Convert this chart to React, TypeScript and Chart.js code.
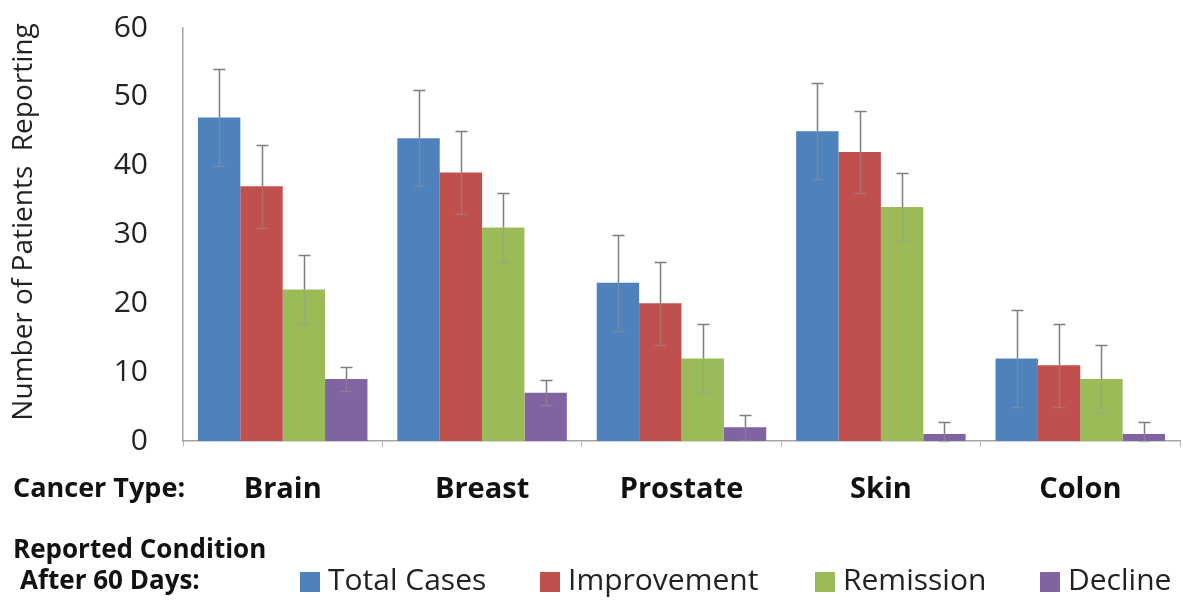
import React, { useEffect, useRef } from "react";
import { Chart, registerables } from "chart.js";

Chart.register(...registerables);

const categories = ["Brain", "Breast", "Prostate", "Skin", "Colon"];
const seriesNames = ["Total Cases", "Improvement", "Remission", "Decline"];
const totalCases = [47, 44, 23, 45, 12];
const improvement = [37, 39, 20, 42, 11];
const remission = [22, 31, 12, 34, 9];
const decline = [9, 7, 2, 1, 1];
const totalErr = [7, 7, 7, 7, 7];
const improvementErr = [6, 6, 6, 6, 6];
const remissionErr = [5, 5, 5, 5, 5];
const declineErr = [1.8, 1.8, 1.8, 1.7, 1.7];
const yTicks = [0, 10, 20, 30, 40, 50, 60];
const colors = ["#4F81BD", "#C0504D", "#9BBB59", "#8064A2"];

const FONT = "'Open Sans', Lato, sans-serif";

const errorBarPlugin = {
  id: "errorBars",
  afterDatasetsDraw(chart: any) {
    const ctx = chart.ctx;
    const yScale = chart.scales.y;
    chart.data.datasets.forEach((ds: any, i: number) => {
      const meta = chart.getDatasetMeta(i);
      meta.data.forEach((bar: any, j: number) => {
        const v = ds.data[j];
        const e = ds.errors[j];
        const x = Math.round(bar.x) + 0.5;
        const yTop = Math.round(yScale.getPixelForValue(v + e)) + 0.5;
        const yVal = yScale.getPixelForValue(v);
        const yBot = Math.round(yScale.getPixelForValue(Math.max(0, v - e))) + 0.5;
        ctx.save();
        ctx.lineWidth = 1.5;
        ctx.strokeStyle = "rgba(120,120,120,0.95)";
        ctx.beginPath();
        ctx.moveTo(x, yTop);
        ctx.lineTo(x, yVal);
        ctx.moveTo(x - 6, yTop);
        ctx.lineTo(x + 6, yTop);
        ctx.stroke();
        ctx.strokeStyle = "rgba(150,150,150,0.45)";
        ctx.beginPath();
        ctx.moveTo(x, yVal);
        ctx.lineTo(x, yBot);
        ctx.moveTo(x - 6, yBot);
        ctx.lineTo(x + 6, yBot);
        ctx.stroke();
        ctx.restore();
      });
    });
  },
};

const extrasPlugin = {
  id: "extras",
  afterDraw(chart: any) {
    const ctx = chart.ctx;
    ctx.save();
    // y axis title
    ctx.save();
    ctx.translate(24, 222);
    ctx.rotate(-Math.PI / 2);
    ctx.fillStyle = "#222";
    ctx.textAlign = "center";
    ctx.textBaseline = "middle";
    ctx.font = `28px ${FONT}`;
    ctx.fillText("Number of Patients  Reporting", 0, 0);
    ctx.restore();

    ctx.fillStyle = "#111";
    ctx.textBaseline = "middle";
    ctx.textAlign = "left";
    ctx.font = `bold 27px ${FONT}`;
    ctx.fillText("Cancer Type:", 13, 489);
    ctx.font = `bold 26px ${FONT}`;
    ctx.fillText("Reported Condition", 13, 551);
    ctx.fillText("After 60 Days:", 20, 582);
    // legend
    const starts = [300, 540, 815, 1040];
    ctx.font = `30px ${FONT}`;
    chart.data.datasets.forEach((ds: any, i: number) => {
      const x = starts[i];
      ctx.fillStyle = ds.backgroundColor;
      ctx.fillRect(x, 572, 20, 20);
      ctx.fillStyle = "#222";
      ctx.fillText(ds.label, x + 28, 581);
    });
    ctx.restore();
  },
};

export default function App() {
  const ref = useRef<HTMLCanvasElement>(null);
  useEffect(() => {
    if (!ref.current) return;
    const series = [totalCases, improvement, remission, decline];
    const errs = [totalErr, improvementErr, remissionErr, declineErr];
    const chart = new Chart(ref.current, {
      type: "bar",
      data: {
        labels: categories,
        datasets: seriesNames.map((name, i) => ({
          label: name,
          data: series[i],
          errors: errs[i],
          backgroundColor: colors[i],
          barPercentage: 1,
          categoryPercentage: 0.85,
        })) as any,
      },
      options: {
        animation: false,
        responsive: false,
        maintainAspectRatio: false,
        layout: { padding: { top: 28, right: 3, left: 0, bottom: 0 } },
        plugins: {
          legend: { display: false },
          tooltip: { enabled: false },
        },
        scales: {
          x: {
            grid: {
              display: true,
              drawOnChartArea: false,
              drawTicks: true,
              tickLength: 6,
              offset: true,
              color: "#bbbbbb",
            },
            border: { display: true, color: "#a6a6a6", width: 1.5 },
            ticks: {
              padding: 25,
              color: "#111",
              font: { family: FONT, size: 29, weight: "bold" },
            },
            afterFit: (scale: any) => {
              scale.height = 163;
              scale.paddingLeft = 0;
              scale.paddingRight = 0;
            },
          },
          y: {
            min: 0,
            max: 60,
            afterBuildTicks: (scale: any) => {
              scale.ticks = yTicks.map((v) => ({ value: v }));
            },
            grid: { display: false, drawTicks: false },
            border: { display: true, color: "#a6a6a6", width: 1.5 },
            ticks: {
              padding: 35,
              color: "#222",
              font: { family: FONT, size: 30 },
            },
            afterFit: (scale: any) => {
              scale.width = 183;
              scale.paddingTop = 0;
              scale.paddingBottom = 0;
            },
          },
        },
      },
      plugins: [errorBarPlugin, extrasPlugin],
    });
    return () => chart.destroy();
  }, []);
  return (
    <div style={{ position: "fixed", left: 0, top: 0, width: 1183, height: 604, background: "#fff" }}>
      <canvas ref={ref} width={1183} height={604} style={{ width: 1183, height: 604 }} />
    </div>
  );
}
